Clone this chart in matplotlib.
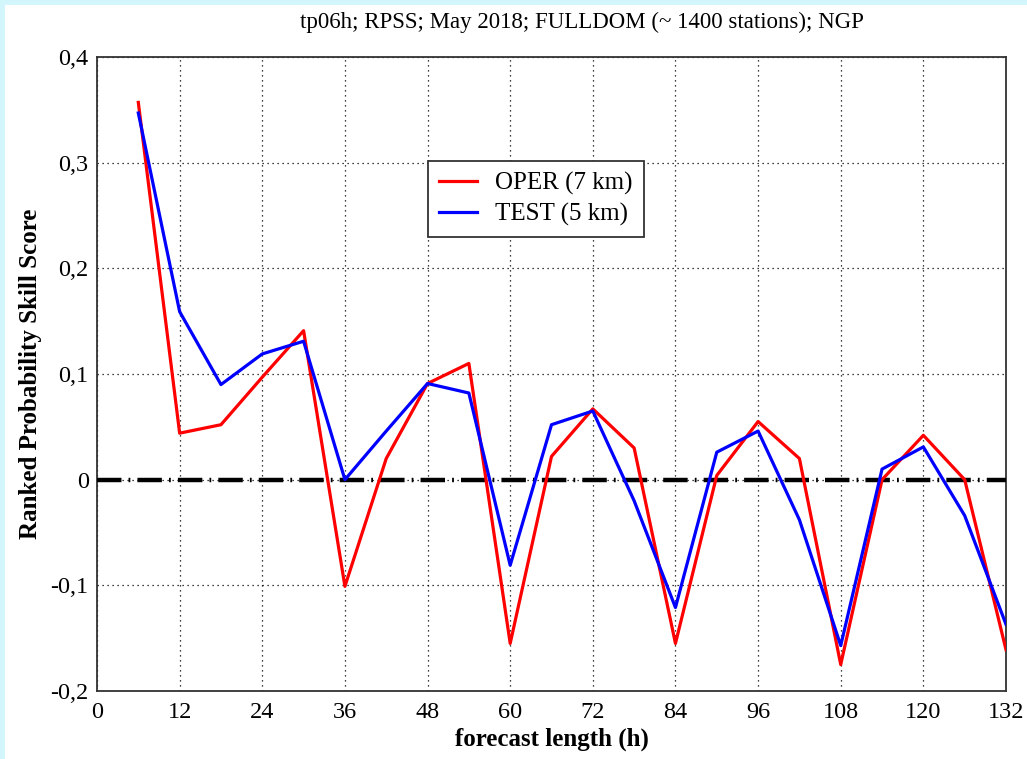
import matplotlib
matplotlib.use("Agg")
import matplotlib.pyplot as plt
from matplotlib.patches import Rectangle

# Forecast lead times (h) and RPSS per model
lead_hours = [6, 12, 18, 24, 30, 36, 42, 48, 54, 60, 66, 72, 78, 84,
              90, 96, 102, 108, 114, 120, 126, 132]
oper_rpss = [0.357, 0.044, 0.052, 0.097, 0.141, -0.101, 0.020, 0.091, 0.110, -0.155,
             0.022, 0.067, 0.030, -0.155, 0.004, 0.055, 0.020, -0.175, 0.000, 0.042,
             0.000, -0.161]
test_rpss = [0.347, 0.159, 0.090, 0.119, 0.131, 0.000, 0.046, 0.091, 0.082, -0.081,
             0.052, 0.065, -0.020, -0.121, 0.026, 0.046, -0.038, -0.157, 0.010, 0.031,
             -0.034, -0.137]

x_ticks = list(range(0, 133, 12))
y_ticks = [-0.2, -0.1, 0.0, 0.1, 0.2, 0.3, 0.4]
y_tick_labels = ["-0,2", "-0,1", "0", "0,1", "0,2", "0,3", "0,4"]

series_labels = ["OPER (7 km)", "TEST (5 km)"]
title = "tp06h; RPSS; May 2018; FULLDOM (~ 1400 stations); NGP"

plt.rcParams["font.family"] = ["Liberation Serif", "DejaVu Serif"]

fig = plt.figure(figsize=(10.27, 7.59), dpi=100)
fig.patch.set_facecolor("#d2f6fb")
fig.patches.append(Rectangle((5 / 1027, 0), 1, 1 - 5 / 759, transform=fig.transFigure,
                             facecolor="white", edgecolor="none", zorder=-1))

ax = fig.add_axes([97 / 1027, 1 - 691 / 759, (1006 - 97) / 1027, (691 - 57) / 759])

ax.plot(lead_hours, oper_rpss, color="#ff0000", lw=2.3, label=series_labels[0], zorder=4)
ax.plot(lead_hours, test_rpss, color="#0000ff", lw=2.3, label=series_labels[1], zorder=5)
ax.axhline(0, color="black", lw=3.2, linestyle=(0, (5.5, 1.6, 0.4, 1.6)), zorder=3)

ax.set_xlim(0, 132)
ax.set_ylim(-0.2, 0.4)
ax.set_xticks(x_ticks)
ax.set_yticks(y_ticks)
ax.set_yticklabels(y_tick_labels)
ax.tick_params(length=0, labelsize=17.5)
ax.tick_params(axis="x", pad=8)
ax.tick_params(axis="y", pad=6)

ax.grid(True, color="black", linestyle=(0, (1, 3)), lw=0.9)
for s in ax.spines.values():
    s.set_color("#333333")
    s.set_linewidth(1.3)

fig.text(582 / 1027, 1 - 22 / 759, title, fontsize=16.5, ha="center", va="center")
ax.set_xlabel("forecast length (h)", fontsize=18, fontweight="bold", labelpad=3)
ax.set_ylabel("Ranked Probability Skill Score", fontsize=18, fontweight="bold", labelpad=6)

leg = ax.legend(loc="upper left", bbox_to_anchor=(0.364, 0.836), fontsize=18,
                frameon=True, fancybox=False, edgecolor="#333333", framealpha=1,
                handlelength=1.5, handletextpad=0.75, borderpad=0.45, labelspacing=0.3,
                borderaxespad=0)
leg.get_frame().set_linewidth(1.3)

fig.savefig("out.png", dpi=100, facecolor=fig.get_facecolor())
